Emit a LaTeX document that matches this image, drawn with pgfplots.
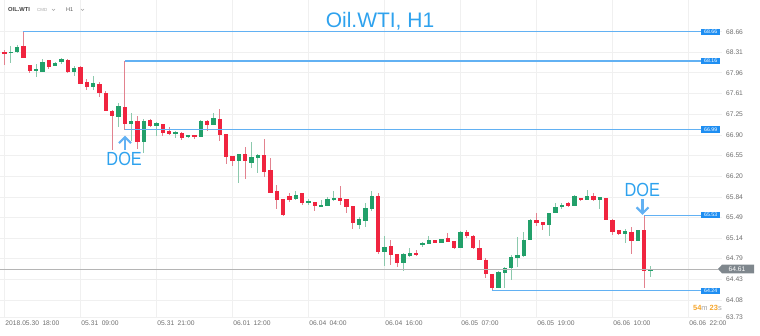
\documentclass[border=0pt]{standalone}
\usepackage{fontspec}
\setmainfont{Liberation Sans}
\usepackage{graphicx}
\usepackage{pgfplots}
\pgfplotsset{compat=1.18}
\usepackage{pgfplotstable}
\definecolor{bull}{HTML}{22A06A}
\definecolor{bullwick}{HTML}{8CC9AD}
\definecolor{bear}{HTML}{F0243F}
\definecolor{bearwick}{HTML}{E2828F}
\definecolor{gridc}{HTML}{F0F0F0}
\definecolor{lvl}{HTML}{62B1F3}
\definecolor{lvlbox}{HTML}{1E8EF2}
\definecolor{ttl}{HTML}{2EA2EE}
\definecolor{tickc}{HTML}{6E6E6E}
\definecolor{cur}{HTML}{B5B5B5}
\definecolor{curtag}{HTML}{7F878D}
\definecolor{orng}{HTML}{F5A52A}
\pgfplotstableread{
i O H L C
0 68.32 68.35 68.10 68.28
1 68.30 68.41 68.13 68.32
2 68.31 68.43 68.29 68.40
3 68.41 68.66 68.21 68.22
4 68.10 68.10 67.95 67.99
5 67.99 68.11 67.88 68.02
6 67.98 68.19 67.98 68.15
7 68.17 68.18 68.03 68.05
8 68.07 68.15 68.07 68.13
9 68.14 68.22 68.11 68.19
10 68.18 68.19 67.95 67.97
11 67.97 68.08 67.90 68.04
12 68.05 68.08 67.77 67.77
13 67.80 67.85 67.67 67.71
14 67.71 67.90 67.67 67.79
15 67.77 67.80 67.54 67.61
16 67.62 67.64 67.30 67.31
17 67.31 67.33 66.64 67.22
18 67.20 67.44 67.03 67.39
19 67.37 68.16 66.99 67.09
20 67.09 67.28 66.80 67.14
21 67.14 67.22 66.66 66.77
22 66.77 67.17 66.59 67.14
23 67.16 67.17 67.03 67.05
24 67.05 67.12 66.88 67.11
25 67.08 67.09 66.88 66.93
26 66.96 67.04 66.90 66.92
27 66.92 66.96 66.84 66.95
28 66.93 66.95 66.82 66.84
29 66.86 66.90 66.84 66.90
30 66.90 66.90 66.83 66.86
31 66.86 67.16 66.86 67.14
32 67.14 67.16 66.96 67.07
33 67.07 67.28 67.07 67.18
34 67.17 67.34 66.80 66.90
35 66.92 66.92 66.41 66.52
36 66.53 66.53 66.37 66.46
37 66.46 66.58 66.08 66.58
38 66.58 66.69 66.14 66.45
39 66.42 66.77 66.33 66.52
40 66.50 66.58 66.25 66.55
41 66.55 66.83 66.18 66.26
42 66.30 66.51 65.90 65.91
43 65.94 66.04 65.64 65.79
44 65.81 65.81 65.51 65.53
45 65.85 65.90 65.75 65.79
46 65.80 65.94 65.79 65.88
47 65.90 65.90 65.70 65.73
48 65.73 65.81 65.71 65.77
49 65.75 65.75 65.60 65.68
50 65.67 65.78 65.67 65.71
51 65.68 65.84 65.68 65.81
52 65.78 65.94 65.77 65.82
53 65.83 66.02 65.70 65.77
54 65.80 65.81 65.57 65.67
55 65.68 65.68 65.30 65.39
56 65.37 65.50 65.30 65.47
57 65.43 65.74 65.32 65.65
58 65.63 65.94 65.60 65.85
59 65.85 65.90 64.87 64.90
60 64.90 65.17 64.66 64.98
61 65.00 65.11 64.68 64.85
62 64.86 64.87 64.65 64.71
63 64.71 64.88 64.58 64.86
64 64.83 64.96 64.82 64.88
65 64.88 64.93 64.83 64.86
66 65.03 65.07 64.99 65.06
67 65.04 65.17 65.03 65.11
68 65.11 65.11 65.05 65.06
69 65.05 65.13 65.05 65.13
70 65.14 65.22 65.07 65.07
71 65.08 65.08 64.95 64.97
72 64.97 65.25 64.97 65.24
73 65.24 65.27 65.14 65.17
74 65.17 65.19 64.96 64.97
75 64.97 65.10 64.76 64.77
76 64.77 64.79 64.45 64.52
77 64.52 64.53 64.24 64.28
78 64.28 64.57 64.28 64.56
79 64.54 64.65 64.28 64.63
80 64.62 64.85 64.42 64.81
81 64.79 65.16 64.64 64.85
82 64.83 65.24 64.81 65.11
83 65.11 65.47 65.10 65.45
84 65.45 65.56 65.34 65.40
85 65.41 65.41 65.27 65.36
86 65.36 65.56 65.17 65.56
87 65.56 65.73 65.56 65.67
88 65.66 65.74 65.64 65.71
89 65.73 65.75 65.67 65.69
90 65.68 65.87 65.68 65.85
91 65.83 65.83 65.77 65.78
92 65.78 65.95 65.78 65.85
93 65.85 65.90 65.77 65.78
94 65.79 65.83 65.64 65.83
95 65.83 65.83 65.44 65.45
96 65.45 65.47 65.19 65.24
97 65.27 65.27 65.19 65.20
98 65.20 65.30 65.05 65.26
99 65.24 65.33 64.87 65.09
100 65.09 65.28 65.09 65.28
101 65.28 65.53 64.28 64.58
102 64.58 64.66 64.48 64.61
}\ohlc
\pgfplotsset{candle/.style={draw=none, mark=none, forget plot,
  error bars/.cd, y dir=both, y explicit, error mark=none}}
\begin{document}
\begin{tikzpicture}
\path[use as bounding box] (0pt,0pt) rectangle (760pt,335pt);
\begin{axis}[at={(0pt,17pt)}, anchor=south west, scale only axis,
  width=722pt, height=318pt,
  xmin=-0.71, xmax=113.3, ymin=63.773, ymax=69.201,
  clip=false,
  axis line style={draw=none}, major tick length=0pt,
  xtick={0,12,...,108},
  xticklabels={2018.05.30\hspace{3.5pt}18:00, 05.31\hspace{3.5pt}09:00, 05.31\hspace{3.5pt}21:00, 06.01\hspace{3.5pt}12:00, 06.04\hspace{3.5pt}04:00, 06.04\hspace{3.5pt}16:00, 06.05\hspace{3.5pt}07:00, 06.05\hspace{3.5pt}19:00, 06.06\hspace{3.5pt}10:00, 06.06\hspace{3.5pt}22:00},
  ytick={68.66,68.31,67.96,67.61,67.25,66.90,66.55,66.20,65.84,65.49,65.14,64.79,64.43,64.08,63.78},
  yticklabels={68.66,68.31,67.96,67.61,67.25,66.90,66.55,66.20,65.84,65.49,65.14,64.79,64.43,64.08,63.73},
  yticklabel pos=right,
  grid=major, grid style={gridc, line width=0.6pt},
  ticklabel style={font=\fontsize{6.7}{7}\selectfont, text=tickc, inner sep=0pt},
  xticklabel style={anchor=north west, xshift=0.8pt, yshift=-2.5pt},
  yticklabel style={anchor=west, xshift=4pt},
]
% wicks
\addplot[candle, error bar style={draw=bullwick, line width=1pt}]
  table[x=i, y expr={\thisrow{C}>=\thisrow{O} ? (\thisrow{H}+\thisrow{L})/2 : nan},
        y error expr={(\thisrow{H}-\thisrow{L})/2}] {\ohlc};
\addplot[candle, error bar style={draw=bearwick, line width=1pt}]
  table[x=i, y expr={\thisrow{C}<\thisrow{O} ? (\thisrow{H}+\thisrow{L})/2 : nan},
        y error expr={(\thisrow{H}-\thisrow{L})/2}] {\ohlc};
% bodies
\addplot[candle, error bar style={draw=bull, line width=4.2pt}]
  table[x=i, y expr={\thisrow{C}>=\thisrow{O} ? (\thisrow{O}+\thisrow{C})/2 : nan},
        y error expr={max(abs(\thisrow{C}-\thisrow{O})/2,0.009)}] {\ohlc};
\addplot[candle, error bar style={draw=bear, line width=4.2pt}]
  table[x=i, y expr={\thisrow{C}<\thisrow{O} ? (\thisrow{O}+\thisrow{C})/2 : nan},
        y error expr={max(abs(\thisrow{C}-\thisrow{O})/2,0.009)}] {\ohlc};
% current price line
\addplot[cur, line width=0.8pt] coordinates {(-0.71,64.61) (112.7,64.61)};
% level lines
\addplot[lvl, line width=1.1pt] coordinates {(3,68.66) (110.6,68.66)};
\addplot[lvl, line width=1.1pt] coordinates {(19,68.16) (110.6,68.16)};
\addplot[lvl, line width=1.1pt] coordinates {(19,66.99) (110.6,66.99)};
\addplot[lvl, line width=1.1pt] coordinates {(101,65.53) (110.6,65.53)};
\addplot[lvl, line width=1.1pt] coordinates {(77,64.24) (110.6,64.24)};
\foreach \v in {68.66,68.16,66.99,65.53,64.24}{
  \edef\temp{\noexpand\node[fill=lvlbox, text=white, font=\noexpand\fontsize{5.2}{5.2}\noexpand\selectfont, inner xsep=3pt, inner ysep=1.2pt, anchor=east] at (axis cs:113.05,\v) {\v};}
  \temp
}
% DOE annotations
\draw[lvl, line width=2.2pt] (axis cs:19.03,66.64) -- (axis cs:19.03,66.84);
\draw[lvl, line width=2.2pt, line join=miter] ([xshift=-6pt,yshift=-6pt]axis cs:19.03,66.86) -- (axis cs:19.03,66.86) -- ([xshift=6pt,yshift=-6pt]axis cs:19.03,66.86);
\node[anchor=base, text=ttl, font=\fontsize{19}{19}\selectfont, inner sep=0pt] at (axis cs:18.9,66.37) {\scalebox{0.86}[1]{DOE}};
\draw[lvl, line width=2.2pt] (axis cs:100.75,65.80) -- (axis cs:100.75,65.58);
\draw[lvl, line width=2.2pt, line join=miter] ([xshift=-6pt,yshift=6pt]axis cs:100.75,65.56) -- (axis cs:100.75,65.56) -- ([xshift=6pt,yshift=6pt]axis cs:100.75,65.56);
\node[anchor=base, text=ttl, font=\fontsize{19}{19}\selectfont, inner sep=0pt] at (axis cs:100.7,65.84) {\scalebox{0.86}[1]{DOE}};
\end{axis}
% title and toolbar
\node[anchor=base, text=ttl, font=\fontsize{21}{21}\selectfont, inner sep=0pt] at (380pt,307.5pt) {Oil.WTI, H1};
\node[anchor=west, text=black!75, font=\bfseries\fontsize{5.8}{6}\selectfont, inner sep=0pt] at (8pt,325pt) {OIL.WTI};
\node[anchor=west, text=black!35, font=\fontsize{4.4}{5}\selectfont, inner sep=0pt] at (37pt,325pt) {CMD};
\draw[black!35, line width=0.5pt] (52pt,326pt) -- (53.5pt,324.5pt) -- (55pt,326pt);
\node[anchor=west, text=black!65, font=\fontsize{5.5}{6}\selectfont, inner sep=0pt] at (66pt,325pt) {H1};
\draw[black!35, line width=0.5pt] (81pt,326pt) -- (82.5pt,324.5pt) -- (84pt,326pt);
% current price tag
\fill[curtag] (718pt,66pt) -- (722pt,70.3pt) -- (754pt,70.3pt) -- (754pt,61.7pt) -- (722pt,61.7pt) -- cycle;
\node[text=white, font=\fontsize{6.7}{7}\selectfont, inner sep=0pt] at (737pt,66pt) {64.61};
% timer
\node[anchor=east, inner sep=0pt, font=\fontsize{7.5}{8}\selectfont] at (722pt,27pt) {\textcolor{orng}{\bfseries 54}\textcolor{black!35}{m}\hspace{2pt}\textcolor{orng}{\bfseries 23}\textcolor{black!35}{s}};
\end{tikzpicture}
\end{document}
